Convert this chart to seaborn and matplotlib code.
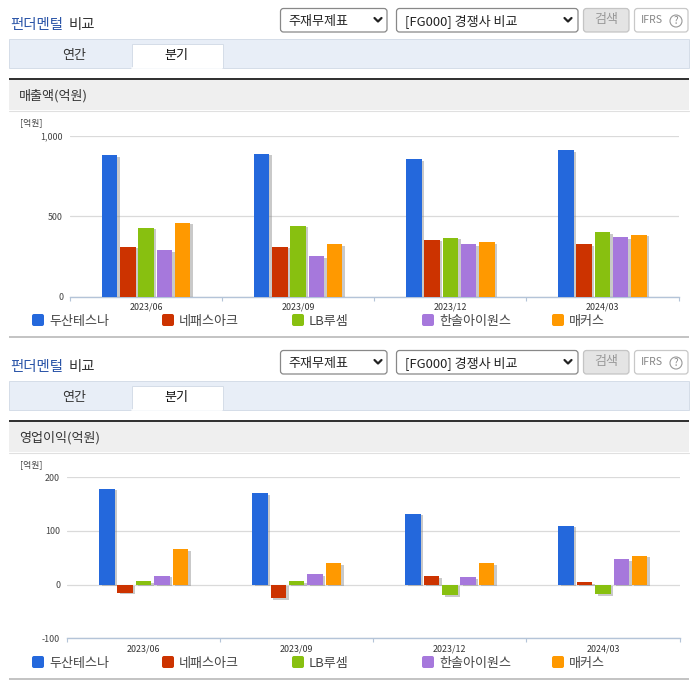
import matplotlib
matplotlib.use('Agg')
import matplotlib.pyplot as plt
import matplotlib.patheffects as pe
from matplotlib.patches import FancyBboxPatch, Rectangle, Circle
import pandas as pd
import seaborn as sns

periods = ['2023/06', '2023/09', '2023/12', '2024/03']
companies = ['두산테스나', '네패스아크', 'LB루셈', '한솔아이원스', '매커스']
colors = ['#2468DC', '#CC3300', '#88C010', '#A678DC', '#FF9900']

sales = {
    '두산테스나': [879, 887, 854, 910],
    '네패스아크': [309, 309, 354, 326],
    'LB루셈': [427, 440, 366, 400],
    '한솔아이원스': [289, 251, 323, 369],
    '매커스': [458, 326, 338, 385],
}
profit = {
    '두산테스나': [179, 171, 132, 110],
    '네패스아크': [-15, -25, 16, 4],
    'LB루셈': [7, 7, -20, -18],
    '한솔아이원스': [17, 19, 14, 47],
    '매커스': [66, 40, 40, 54],
}
sales_ticks = [0, 500, 1000]
profit_ticks = [-100, 0, 100, 200]

W, H = 696, 684
sns.set_theme(style='white')
plt.rcParams['font.family'] = ['Noto Sans CJK KR', 'DejaVu Sans']

fig = plt.figure(figsize=(W / 100, H / 100), dpi=100)

# overlay in pixel coords for the page chrome
bg = fig.add_axes([0, 0, 1, 1], zorder=0)
bg.set_xlim(0, W)
bg.set_ylim(H, 0)
bg.axis('off')


def box(x0, y0, x1, y1, fc, ec='none', lw=0.8, round_=0):
    if round_:
        p = FancyBboxPatch((x0 + round_, y0 + round_), x1 - x0 - 2 * round_, y1 - y0 - 2 * round_,
                           boxstyle=f'round,pad={round_},rounding_size={round_}', fc=fc, ec=ec, lw=lw)
    else:
        p = Rectangle((x0, y0), x1 - x0, y1 - y0, fc=fc, ec=ec, lw=lw)
    bg.add_patch(p)


def txt(x, y, s, size=9.4, color='#333333', ha='left', **kw):
    # Noto sits a little high with va=center
    bg.text(x, y + 1, s, fontsize=size, color=color, ha=ha, va='center', **kw)


def chevron(x, y):
    bg.plot([x - 3.5, x, x + 3.5], [y - 2, y + 1.5, y - 2], color='#222222', lw=1.6)


def page_section(dy, heading):
    # title row
    txt(10, 23.5 + dy, '펀더멘털', size=10.4, color='#2B55A8', fontweight='medium')
    txt(69, 23.5 + dy, '비교', size=10.4, color='#333333', fontweight='medium')
    box(280.5, 8.5 + dy, 387, 32 + dy, 'white', '#888888', 0.9, 3)
    txt(288, 20 + dy, '주재무제표', color='#222222')
    chevron(378, 20 + dy)
    box(396.5, 8.5 + dy, 578, 32 + dy, 'white', '#888888', 0.9, 3)
    txt(405, 20 + dy, '[FG000] 경쟁사 비교', color='#222222')
    chevron(568, 20 + dy)
    box(583.5, 8.5 + dy, 629, 32 + dy, '#E4E4E4', '#C4C4C4', 0.9, 3)
    txt(606, 19 + dy, '검색', color='#999999', ha='center')
    box(634.5, 8.5 + dy, 688, 32 + dy, 'white', '#C8C8C8', 0.9, 3)
    txt(641, 19 + dy, 'IFRS', size=7.6, color='#888888')
    bg.add_patch(Circle((676, 21 + dy), 6, fc='white', ec='#999999', lw=0.8))
    txt(676, 20 + dy, '?', size=7, color='#888888', ha='center')
    # tabs
    box(9, 38.5 + dy, 688.5, 67.5 + dy, '#E8EEF7', '#D5DDE8', 0.7)
    box(131.5, 43.5 + dy, 222.5, 68 + dy, 'white', '#D5DDE8', 0.7)
    bg.plot([132, 222], [68 + dy, 68 + dy], color='white', lw=1.2)
    txt(74, 54 + dy, '연간', ha='center')
    txt(176, 54 + dy, '분기', color='#111111', ha='center')
    # heading bar
    box(9, 80 + dy, 689, 110 + dy, '#EFEFEF')
    box(9, 78 + dy, 689, 80 + dy, '#333333')
    bg.plot([9, 689], [110.5 + dy, 110.5 + dy], color='#E0E0E0', lw=0.8)
    txt(19, 95 + dy, heading, color='#333333')
    txt(20, 122 + dy, '[억원]', size=6.4, color='#444444')
    # legend row and closing rule
    for name, color, x in zip(companies, colors, [32, 162, 292, 422, 552]):
        box(x, 314 + dy, x + 12, 326 + dy, color, round_=2)
        txt(x + 17, 320.5 + dy, name, color='#444444')
    box(9, 336 + dy, 689, 338 + dy, '#C4C4C4')


def draw_chart(rect, values, ticks, fmt, ylim):
    x0, y0, x1, y1 = rect
    ax = fig.add_axes([x0 / W, 1 - y1 / H, (x1 - x0) / W, (y1 - y0) / H], zorder=1)
    ax.patch.set_alpha(0)
    df = pd.DataFrame({'기간': periods, **values}).melt('기간', var_name='회사', value_name='값')
    sns.barplot(data=df, x='기간', y='값', hue='회사', hue_order=companies, order=periods,
                palette=colors, width=0.6, gap=0.15, saturation=1, legend=False,
                linewidth=0, edgecolor='none', ax=ax)
    for bar in ax.patches:
        bar.set_path_effects([pe.SimplePatchShadow(offset=(1.8, -1.2), shadow_rgbFace='#888888', alpha=0.45),
                              pe.Normal()])
        bar.set_zorder(3)
    ax.set_xlim(-0.5, 3.5)
    ax.set_ylim(*ylim)
    ax.set_xlabel('')
    ax.set_ylabel('')
    sns.despine(ax=ax, left=True, top=True, right=True)
    ax.spines['bottom'].set_color('#B4C4D8')
    ax.spines['bottom'].set_linewidth(1)
    ax.set_yticks(ticks, [fmt(t) for t in ticks])
    ax.tick_params(axis='y', length=0, pad=5, labelsize=6.4, labelcolor='#444444')
    ax.set_xticks(range(len(periods)), periods)
    ax.tick_params(axis='x', which='major', bottom=False, length=0, pad=4.5, labelsize=6.4, labelcolor='#333333')
    ax.set_xticks([-0.5, 0.5, 1.5, 2.5, 3.5], minor=True)
    ax.tick_params(axis='x', which='minor', bottom=True, length=3, width=0.8, color='#B4C4D8', direction='out')
    ax.grid(axis='y', color='#DADADA', lw=0.9)
    ax.set_axisbelow(True)
    return ax


page_section(0, '매출액(억원)')
page_section(342, '영업이익(억원)')

draw_chart((70, 135.5, 678.5, 296.5), sales, sales_ticks, lambda t: f'{t:,}', (0, 1000))
draw_chart((67, 477.3, 679.5, 638.3), profit, profit_ticks, lambda t: f'{t}', (-100, 200))

fig.savefig('out.png', dpi=100)
